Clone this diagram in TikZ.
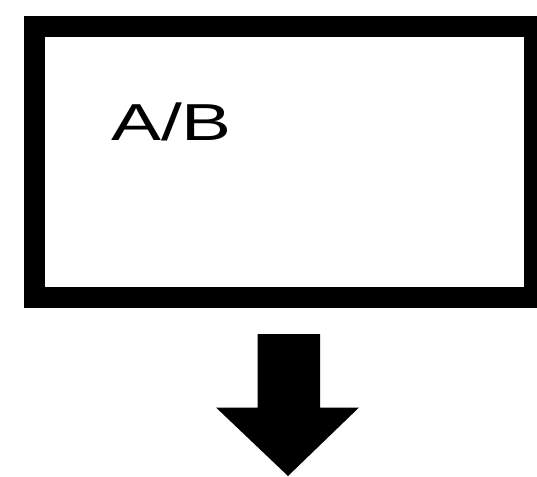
\documentclass[tikz,border=0pt]{standalone}
\usepackage{fontspec}
\usepackage{graphicx}
\setmainfont{Liberation Sans}
\tikzset{
  frame/.style={minimum width=500pt, minimum height=270pt, inner sep=0pt, outer sep=0pt},
  frameline/.style={draw=black, line width=21pt},
  lbl/.style={anchor=base west, inner sep=0pt, font=\fontsize{52pt}{52pt}\selectfont},
  blockarrow/.style={fill=black}
}
\begin{document}
\begin{tikzpicture}[x=1pt,y=-1pt]
\useasboundingbox (0,0) rectangle (537,476);
\node[frame] (box) at (284,162) {};
\draw[frameline] (box.north west) rectangle (box.south east);
\node[lbl] (ab) at (111,140) {\scalebox{1.44}[1]{A/B}};
\coordinate (atip) at (288,476);
\fill[blockarrow] (257.5,334) -- (257.5,407.5) -- (216,407.5) -- (atip) -- (359,407.5) -- (320,407.5) -- (320,334) -- cycle;
\end{tikzpicture}
\end{document}
